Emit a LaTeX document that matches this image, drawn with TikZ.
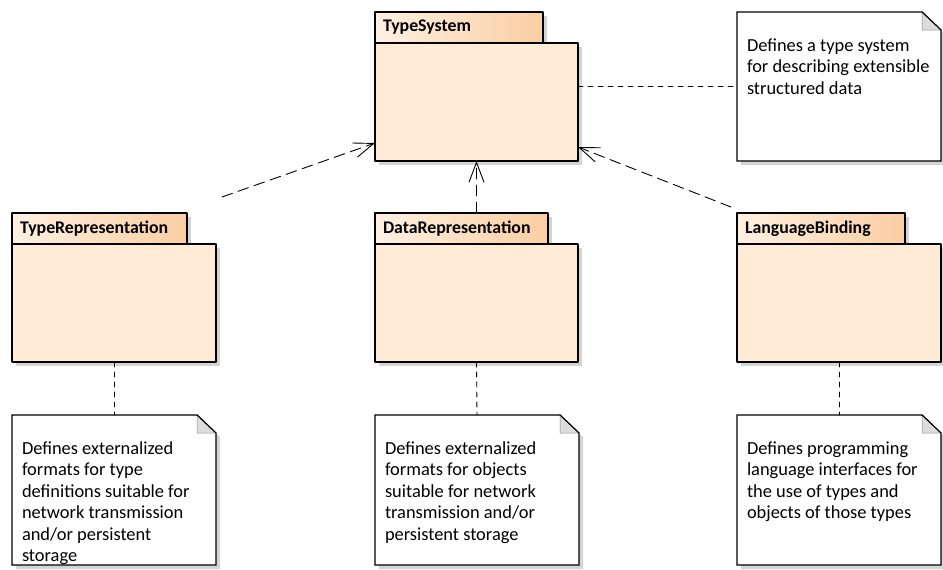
\documentclass[tikz,border=0pt]{standalone}
\usepackage{fontspec}
\setmainfont{Carlito}
\usetikzlibrary{positioning, calc, arrows.meta, shadows, backgrounds}

\definecolor{tabL}{RGB}{255,240,226}
\definecolor{tabR}{RGB}{250,206,162}
\definecolor{bodyC}{RGB}{255,235,214}
\definecolor{shadowC}{RGB}{212,212,212}
\definecolor{foldC}{RGB}{220,220,220}

\tikzset{
  pkgshadow/.style={drop shadow={shadow xshift=4pt, shadow yshift=-4pt, fill=shadowC, opacity=1}},
  pkgtab/.style={draw, line width=1.1pt, left color=tabL, right color=tabR, anchor=north west,
    inner xsep=8pt, inner ysep=0pt, outer sep=0pt, minimum height=31pt, align=left,
    font=\fontsize{17.8}{21}\selectfont\bfseries, pkgshadow},
  pkgbody/.style={draw, line width=1.1pt, fill=bodyC, anchor=north west, inner sep=0pt,
    outer sep=0pt, minimum height=118pt, pkgshadow},
  notebox/.style={anchor=north west, inner xsep=10pt, inner ysep=0pt, outer sep=0pt,
    font=\fontsize{18.4}{21.5}\selectfont},
  noteframe/.style={draw, line width=1.1pt, fill=white, pkgshadow},
  depline/.style={line width=0.9pt, dash pattern=on 11pt off 6pt,
    -{Straight Barb[length=20pt, width=15pt, line width=0.9pt]}},
  notelink/.style={line width=0.9pt, dash pattern=on 5pt off 5pt}
}

\newcommand{\notetext}[2][150pt]{\parbox[c][#1][t]{184pt}{\raggedright\rule{0pt}{39pt}#2}}

% folded corner frame behind a note
\newcommand{\notefold}[1]{%
  \scoped[on background layer]{
    \filldraw[noteframe] (#1.north west) -- ($(#1.north east)+(-19,0)$) -- ($(#1.north east)+(0,18)$)
      -- (#1.south east) -- (#1.south west) -- cycle;
    \filldraw[fill=foldC, draw=black!45, line width=0.5pt] ($(#1.north east)+(-19,0)$)
      -- ($(#1.north east)+(-19,18)$) -- ($(#1.north east)+(0,18)$) -- cycle;
    \draw[line width=1.1pt] ($(#1.north east)+(-19,0)$) -- ($(#1.north east)+(0,18)$);
  }}

\begin{document}
\begin{tikzpicture}[x=1pt,y=-1pt, line cap=round, line join=round]

\useasboundingbox (0,0) rectangle (943,570);

% packages
\node[pkgtab, text width=152pt] (tstab) at (375,12) {TypeSystem};
\node[pkgbody, minimum width=203pt] (tsbody) at (tstab.south west) {};

\node[pkgtab, text width=159pt] (trtab) at (12,213) {TypeRepresentation};
\node[pkgbody, minimum width=204pt] (trbody) at (trtab.south west) {};

\node[pkgtab, text width=157pt] (drtab) at (375,213) {DataRepresentation};
\node[pkgbody, minimum width=203pt] (drbody) at (drtab.south west) {};

\node[pkgtab, text width=152pt] (lbtab) at (737,213) {LanguageBinding};
\node[pkgbody, minimum width=204pt] (lbbody) at (lbtab.south west) {};

% notes
\node[notebox] (tsnote) at (737,12)
  {\notetext[149pt]{Defines a type system\\ for describing extensible\\ structured data}};
\notefold{tsnote}

\node[notebox] (trnote) at (12,415)
  {\notetext{Defines externalized\\ formats for type\\ definitions suitable for\\ network transmission\\ and/or persistent\\ storage}};
\notefold{trnote}

\node[notebox] (drnote) at (375,415)
  {\notetext{Defines externalized\\ formats for objects\\ suitable for network\\ transmission and/or\\ persistent storage}};
\notefold{drnote}

\node[notebox] (lbnote) at (737,415)
  {\notetext{Defines programming\\ language interfaces for\\ the use of types and\\ objects of those types}};
\notefold{lbnote}

% dependencies
\draw[depline] ($(trtab.north east)+(35,-16)$) -- ($(tsbody.south west)+(0,-18)$);
\draw[depline] (drbody.north |- drtab.north) -- (tsbody.south);
\draw[depline] ($(lbtab.north west)+(-6,-6)$) -- ($(tsbody.south east)+(0,-14)$);

% note links
\draw[notelink] (tsbody.east |- tsnote.west) -- (tsnote.west);
\draw[notelink] (trbody.south) -- (trnote.north);
\draw[notelink] (drbody.south) -- (drnote.north);
\draw[notelink] (lbbody.south) -- (lbnote.north);

\end{tikzpicture}
\end{document}
